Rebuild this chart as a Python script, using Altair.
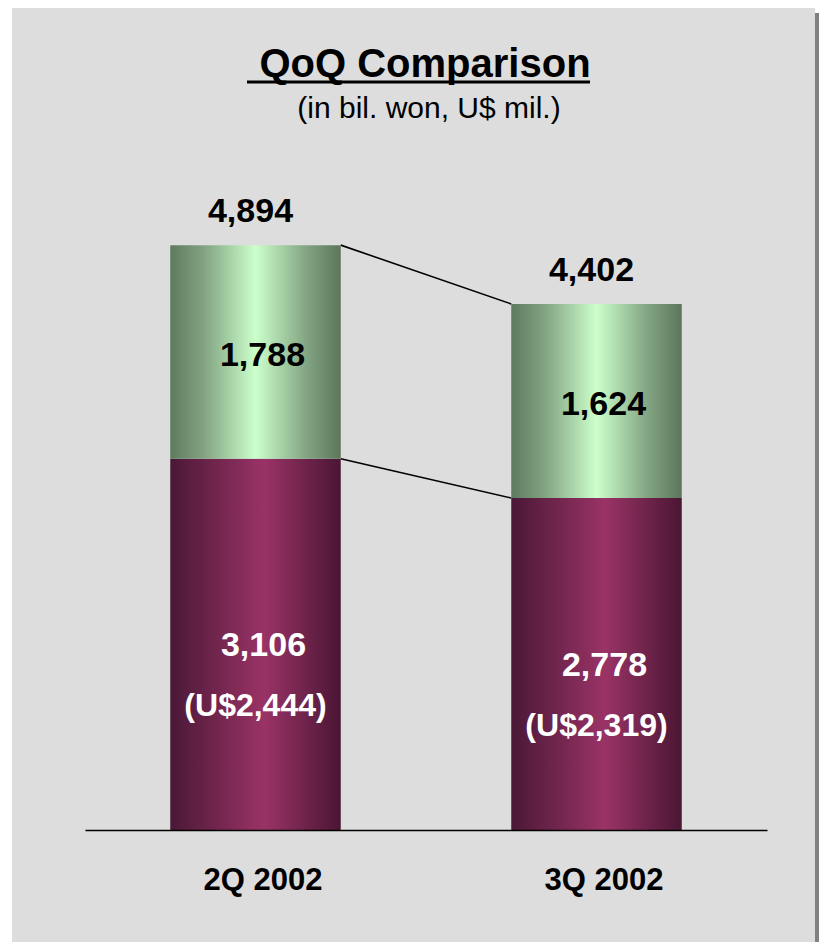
import json
import altair as alt
import pandas as pd

# ---- data ----
quarters = ["2Q 2002", "3Q 2002"]
won_total = [4894, 4402]        # bil. won, total
won_green = [1788, 1624]        # upper (green) segment
won_purple = [3106, 2778]       # lower (purple) segment
usd_purple = [2444, 2319]       # U$ mil. for the purple segment

rows = []
for i, q in enumerate(quarters):
    rows.append({
        "quarter": q,
        "pos": i + 0.5,
        "x0": i + 0.25,
        "x1": i + 0.75,
        "total": won_total[i],
        "green": won_green[i],
        "purple": won_purple[i],
        "green_mid": won_purple[i] + won_green[i] / 2,
        "purple_mid": won_purple[i] / 2,
        "usd_label": f"(U${usd_purple[i]:,})",
    })
df = pd.DataFrame(rows)

# connector lines between the right edge of bar 1 and the left edge of bar 2
conn = []
for key, vals in (("total", won_total), ("boundary", won_purple)):
    conn.append({"series": key, "x": 0 + 0.75, "v": vals[0]})
    conn.append({"series": key, "x": 1 + 0.25, "v": vals[1]})
conn_df = pd.DataFrame(conn)

FONT = "Liberation Sans"

xscale = alt.Scale(domain=[0, 2], nice=False, zero=False)
yscale = alt.Scale(domain=[0, 5690], nice=False)
xaxis = alt.Axis(
    values=[0.5, 1.5],
    labelExpr=f"{json.dumps(quarters)}[floor(datum.value)]",
    grid=False, ticks=False, tickSize=0,
    domainColor="black", domainWidth=1.6,
    labelFont=FONT, labelFontSize=31, labelFontWeight="bold", labelColor="black",
    labelBaseline="alphabetic", labelPadding=59, labelOffset=7,
    labelFlush=False, labelOverlap=False, title=None, zindex=1,
)

green_grad = {
    "gradient": "linear", "x1": 0, "x2": 1, "y1": 0, "y2": 0,
    "stops": [
        {"offset": 0.0, "color": "#5E7A5F"},
        {"offset": 0.2, "color": "#82A482"},
        {"offset": 0.5, "color": "#CCFFCC"},
        {"offset": 0.8, "color": "#82A482"},
        {"offset": 1.0, "color": "#5C765C"},
    ],
}
purple_grad = {
    "gradient": "linear", "x1": 0, "x2": 1, "y1": 0, "y2": 0,
    "stops": [
        {"offset": 0.0, "color": "#4A1836"},
        {"offset": 0.55, "color": "#9A3366"},
        {"offset": 1.0, "color": "#4A1634"},
    ],
}

one = alt.Data(values=[{}])

bg = alt.Chart(one).mark_rect(color="#DDDDDD").encode(
    x=alt.value(-73), x2=alt.value(730), y=alt.value(-142), y2=alt.value(800))
shadow = alt.Chart(one).mark_rect(color="#808080").encode(
    x=alt.value(730), x2=alt.value(734), y=alt.value(-137), y2=alt.value(800))

base = alt.Chart(df)

purple_bar = base.mark_rect(color=purple_grad).encode(
    x=alt.X("x0:Q", scale=xscale, axis=xaxis),
    x2="x1:Q",
    y=alt.Y("purple:Q", scale=yscale, axis=None),
    y2=alt.Y2(datum=0),
)
green_bar = base.mark_rect(color=green_grad).encode(
    x=alt.X("x0:Q", scale=xscale, axis=xaxis),
    x2="x1:Q",
    y=alt.Y("total:Q", scale=yscale, axis=None),
    y2="purple:Q",
)

lines = alt.Chart(conn_df).mark_line(color="black", strokeWidth=1.6).encode(
    x=alt.X("x:Q", scale=xscale, axis=xaxis),
    y=alt.Y("v:Q", scale=yscale, axis=None),
    detail="series:N",
)

txt_kw = dict(font=FONT, fontWeight="bold", align="center", baseline="alphabetic")

total_txt = base.mark_text(fontSize=34, color="black", dx=-5, dy=-23, **txt_kw).encode(
    x=alt.X("pos:Q", scale=xscale, axis=xaxis),
    y=alt.Y("total:Q", scale=yscale, axis=None),
    text=alt.Text("total:Q", format=","),
)
green_txt = base.mark_text(fontSize=34, color="black", dx=7, dy=14, **txt_kw).encode(
    x=alt.X("pos:Q", scale=xscale, axis=xaxis),
    y=alt.Y("green_mid:Q", scale=yscale, axis=None),
    text=alt.Text("green:Q", format=","),
)
purple_txt = base.mark_text(fontSize=34, color="white", dx=8, dy=12, **txt_kw).encode(
    x=alt.X("pos:Q", scale=xscale, axis=xaxis),
    y=alt.Y("purple_mid:Q", scale=yscale, axis=None),
    text=alt.Text("purple:Q", format=","),
)
usd_txt = base.mark_text(fontSize=32, color="white", dx=0, dy=72, **txt_kw).encode(
    x=alt.X("pos:Q", scale=xscale, axis=xaxis),
    y=alt.Y("purple_mid:Q", scale=yscale, axis=None),
    text="usd_label:N",
)

title_txt = alt.Chart(alt.Data(values=[{"t": "QoQ Comparison"}])).mark_text(
    fontSize=40, color="black", **txt_kw).encode(
    x=alt.value(340), y=alt.value(-73), text="t:N")
underline = alt.Chart(one).mark_rule(color="black", strokeWidth=3).encode(
    x=alt.value(162), x2=alt.value(505), y=alt.value(-68))
subtitle_txt = alt.Chart(alt.Data(values=[{"t": "(in bil. won, U$ mil.)"}])).mark_text(
    fontSize=30, color="black", font=FONT, align="center", baseline="alphabetic").encode(
    x=alt.value(344), y=alt.value(-32), text="t:N")

chart = alt.layer(
    bg, shadow, lines, purple_bar, green_bar,
    total_txt, green_txt, purple_txt, usd_txt,
    title_txt, underline, subtitle_txt,
).properties(
    width=682, height=680,
    padding={"left": 77, "top": 142, "right": 52, "bottom": 112},
    autosize=alt.AutoSizeParams(type="none"),
    background="white",
).configure_view(stroke=None)

chart.save("out.html", embed_options={"renderer": "svg", "actions": False})
